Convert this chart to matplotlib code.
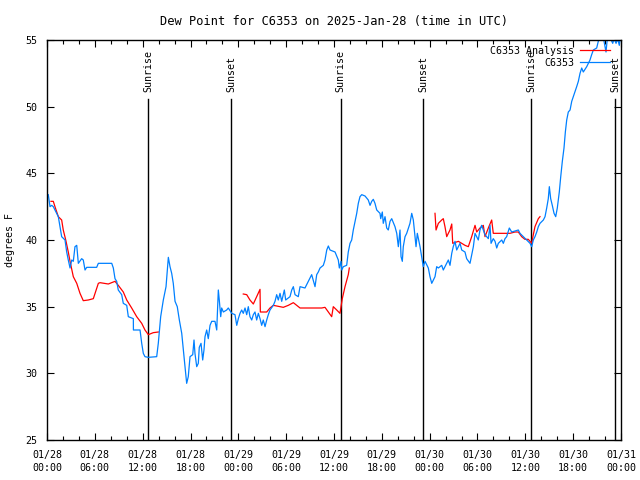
import numpy as np
import matplotlib
matplotlib.use('Agg')
import matplotlib.pyplot as plt

# hours since 2025-01-28 00:00 UTC
obs_hours = [0.16, 0.38, 0.59, 0.79, 1.22, 1.42, 1.63, 1.84, 2.26, 2.47, 2.67, 2.89, 3.10, 3.30,
             3.51, 3.73, 3.93, 4.35, 4.55, 4.77, 4.98, 6.23, 6.44, 8.12, 8.32, 8.53, 8.74, 8.94,
             9.37, 9.57, 10.0, 10.2, 10.83, 10.84, 11.67, 11.88, 12.08, 12.29, 12.71, 13.76, 13.96,
             14.26, 14.59, 14.93, 15.22, 15.43, 15.64, 15.84, 16.06, 16.34, 16.6, 16.9, 17.1, 17.31,
             17.52, 17.72, 17.94, 18.28, 18.44, 18.56, 18.78, 18.98, 19.1, 19.32, 19.53, 19.69, 19.82,
             20.03, 20.23, 20.45, 20.66, 21.07, 21.29, 21.49, 21.61, 21.79, 21.91, 22.12, 22.54, 22.74,
             23.17, 23.58, 23.8, 24.0, 24.21, 24.42, 24.62, 24.84, 25.05, 25.25, 25.46, 25.68, 25.88,
             26.09, 26.3, 26.51, 26.72, 26.93, 27.13, 27.35, 27.56, 27.76, 27.97, 28.39, 28.6, 28.81,
             29.01, 29.23, 29.44, 29.77, 29.94, 30.48, 30.7, 30.9, 31.11, 31.52, 31.74, 32.36, 32.78,
             33.2, 33.62, 33.83, 34.03, 34.25, 34.66, 34.87, 35.09, 35.29, 35.5, 36.13, 36.54, 36.67,
             36.88, 36.97, 37.17, 37.59, 37.79, 38.01, 38.22, 38.42, 38.64, 38.85, 39.05, 39.26, 39.48,
             39.89, 40.3, 40.52, 40.73, 40.93, 41.14, 41.36, 41.77, 41.86, 42.06, 42.18, 42.4, 42.61,
             42.81, 43.03, 43.24, 43.65, 43.87, 44.07, 44.28, 44.41, 44.57, 44.69, 44.91, 45.12, 45.53,
             45.75, 45.95, 46.16, 46.29, 46.45, 46.79, 47.0, 47.2, 47.42, 47.83, 48.04, 48.26, 48.67,
             48.88, 49.09, 49.51, 49.71, 50.34, 50.55, 50.77, 50.96, 51.18, 51.39, 51.81, 52.02, 52.43,
             52.64, 53.06, 53.48, 53.69, 54.1, 54.31, 54.52, 54.94, 55.36, 55.57, 55.7, 55.98, 56.2,
             56.41, 56.61, 57.04, 57.24, 57.45, 57.66, 57.99, 58.29, 59.12, 59.33, 59.75, 60.17, 60.59,
             60.8, 61.0, 61.21, 61.43, 61.63, 61.84, 62.26, 62.47, 62.68, 62.88, 63.01, 63.18, 63.38,
             63.6, 63.81, 64.01, 64.26, 64.44, 64.64, 64.85, 65.02, 65.19, 65.39, 65.61, 65.82, 66.02,
             66.23, 66.44, 66.65, 66.86, 67.07, 67.27, 67.7, 67.9, 68.11, 68.32, 68.53, 68.95, 69.15,
             69.37, 69.78, 69.99, 70.12, 70.28, 70.62, 70.96, 71.13, 71.38, 71.57, 71.79, 71.88]
obs_dewpt = [43.4, 42.5, 42.6, 42.5, 42.0, 41.75, 41.0, 40.25, 40.0, 39.1, 38.5, 37.9, 38.5, 38.4,
             39.5, 39.6, 38.25, 38.6, 38.5, 37.75, 37.95, 37.95, 38.25, 38.25, 37.9, 37.1, 36.9, 36.25,
             35.9, 35.25, 35.1, 34.25, 34.1, 33.25, 33.25, 32.25, 31.5, 31.25, 31.2, 31.25, 32.25,
             34.25, 35.5, 36.5, 38.7, 38.0, 37.5, 36.75, 35.4, 35.0, 34.0, 33.0, 31.75, 30.5,
             29.25, 29.75, 31.25, 31.4, 32.5, 31.5, 30.5, 30.75, 31.95, 32.25, 31.0, 31.75, 32.75,
             33.25, 32.6, 33.6, 33.9, 33.9, 33.25, 36.25, 35.5, 34.25, 34.9, 34.6, 34.75, 34.9,
             34.5, 34.4, 33.6, 34.1, 34.5, 34.75, 34.5, 34.9, 34.4, 35.0, 34.25, 34.0, 34.4,
             34.6, 34.0, 34.5, 34.1, 33.6, 34.0, 33.5, 34.0, 34.4, 34.75, 35.1, 35.4, 35.9,
             35.5, 36.0, 35.4, 36.25, 35.5, 35.75, 36.25, 36.5, 35.9, 35.75, 36.5, 36.4, 36.9,
             37.4, 36.5, 37.4, 37.6, 37.9, 38.1, 38.5, 39.25, 39.55, 39.25, 39.1, 38.5, 37.9,
             38.4, 37.75, 38.0, 38.1, 39.1, 39.75, 40.0, 40.75, 41.4, 42.0, 42.75, 43.25, 43.4,
             43.3, 43.0, 42.6, 42.9, 43.05, 42.75, 42.25, 42.0, 41.6, 42.1, 41.25, 41.75, 40.9,
             40.75, 41.4, 41.6, 41.0, 40.5, 39.5, 40.75, 38.75, 38.4, 39.5, 40.25, 40.5, 41.25,
             42.0, 41.5, 40.25, 39.5, 40.5, 39.5, 38.75, 38.0, 38.4, 37.9, 37.25, 36.75, 37.25,
             38.0, 37.9, 38.1, 37.75, 38.5, 38.1, 39.0, 39.5, 39.9, 39.25, 39.75, 39.25, 39.1,
             38.6, 38.25, 39.5, 40.5, 40.0, 40.75, 41.1, 40.4, 40.1, 41.1, 39.75, 40.1, 39.9,
             39.4, 39.75, 40.0, 39.75, 40.1, 40.25, 40.9, 40.6, 40.75, 40.5, 40.25, 40.0, 39.75,
             39.5, 40.0, 40.25, 40.6, 41.0, 41.25, 41.5, 41.75, 42.4, 43.1, 44.0, 43.1, 42.6,
             42.0, 41.75, 42.4, 43.6, 44.75, 45.9, 46.9, 48.1, 49.0, 49.6, 49.75, 50.4, 50.75,
             51.1, 51.5, 51.9, 52.5, 52.9, 52.6, 53.0, 53.25, 53.5, 53.9, 54.25, 54.4, 54.9,
             55.2, 55.2, 54.5, 54.1, 55.1, 55.2, 54.75, 55.1, 54.75, 55.1, 54.6, 55.1]

# analysis series, gaps marked with nan
ana_hours = [0.5, 0.79, 1.0, 1.42, 1.84, 2.04, 2.35, 2.67, 2.89, 3.3, 3.73, 4.14, 4.55, 5.18, 5.81,
             6.44, 6.65, 7.69, 8.53, 8.94, 9.57, 10.0, 10.62, 11.25, 11.88, 12.29, 12.71, 13.33, 13.96,
             np.nan,
             24.62, 25.05, 25.46, 25.88, 26.3, 26.72, 26.76, 27.56, 27.97, 28.39, 29.64, 30.27, 30.9,
             31.32, 31.74, 32.58, 34.46, 34.87, 35.29, 35.71, 35.91, 36.34, 36.75, 36.88, 37.04, 37.38,
             37.79, 37.92,
             np.nan,
             48.67, 48.8, 49.09, 49.51, 49.71, 49.92, 50.14, 50.34, 50.55, 50.77, 50.89, 51.6, 52.02,
             52.43, 52.85, 53.27, 53.69, 53.9, 54.31, 54.73, 54.94, 55.36, 55.78, 55.98, 58.07, 58.7,
             59.12, 59.54, 59.95, 60.37, 60.8, 61.0, 61.21, 61.63, 61.84]
ana_dewpt = [42.9, 42.9, 42.5, 41.75, 41.5, 40.75, 40.0, 39.1, 38.4, 37.25, 36.75, 36.0, 35.45, 35.5, 35.6,
             36.75, 36.8, 36.7, 36.9, 36.6, 36.1, 35.5, 34.9, 34.25, 33.75, 33.25, 32.9, 33.05, 33.1,
             np.nan,
             35.95, 35.9, 35.5, 35.2, 35.75, 36.3, 34.6, 34.6, 34.9, 35.1, 34.95, 35.1, 35.3,
             35.1, 34.9, 34.9, 34.9, 34.95, 34.6, 34.25, 35.0, 34.75, 34.5, 35.0, 35.6, 36.5,
             37.4, 37.9,
             np.nan,
             42.0, 40.75, 41.25, 41.5, 41.6, 41.0, 40.25, 40.5, 40.75, 41.2, 39.75, 39.9, 39.75,
             39.6, 39.5, 40.25, 41.1, 40.6, 40.9, 41.1, 40.25, 40.9, 41.5, 40.5, 40.5, 40.6,
             40.6, 40.25, 40.05, 40.05, 39.75, 40.4, 41.0, 41.6, 41.75]

sun_hours = [12.71, 23.12, 36.84, 47.2, 60.75, 71.29]
sun_labels = ['Sunrise', 'Sunset', 'Sunrise', 'Sunset', 'Sunrise', 'Sunset']

tick_hours = [0, 6, 12, 18, 24, 30, 36, 42, 48, 54, 60, 66, 72]
tick_labels = ['01/28\n00:00', '01/28\n06:00', '01/28\n12:00', '01/28\n18:00',
               '01/29\n00:00', '01/29\n06:00', '01/29\n12:00', '01/29\n18:00',
               '01/30\n00:00', '01/30\n06:00', '01/30\n12:00', '01/30\n18:00',
               '01/31\n00:00']

plt.rcParams['font.family'] = 'DejaVu Sans Mono'
plt.rcParams['font.size'] = 7.2

fig = plt.figure(figsize=(6.4, 4.8), dpi=100)
ax = fig.add_axes([47 / 640, 40 / 480, 574 / 640, 400 / 480])

for h, lab in zip(sun_hours, sun_labels):
    ax.plot([h, h], [25, 50.57], color='black', lw=1.0)
    ax.text(h, 51.1, lab, rotation=90, ha='center', va='bottom')

ax.plot(ana_hours, ana_dewpt, color='#ff0000', lw=0.9, label='C6353 Analysis')
ax.plot(obs_hours, obs_dewpt, color='#0080ff', lw=0.9, label='C6353')

ax.set_xlim(0, 72)
ax.set_ylim(25, 55)
ax.set_xticks(tick_hours)
ax.set_xticklabels(tick_labels, linespacing=1.35)
ax.set_xticks(np.arange(0, 73, 2), minor=True)
ax.set_yticks(np.arange(25, 56, 5))
ax.tick_params(which='both', direction='in', top=True, right=True, width=0.8, color='black')
ax.tick_params(which='major', length=5, pad=7)
ax.tick_params(which='minor', length=3)
for s in ax.spines.values():
    s.set_linewidth(1.0)

ax.set_title('Dew Point for C6353 on 2025-Jan-28 (time in UTC)', pad=11)
fig.text(10 / 640, 0.5, 'degrees F', rotation=90, ha='center', va='center')

ax.legend(loc='upper right', bbox_to_anchor=(1 - 4 / 574, 1 + 1 / 400), frameon=False,
          markerfirst=False, handlelength=3.0, borderaxespad=0.3, labelspacing=0.2,
          handletextpad=0.6)

fig.savefig('out.png', dpi=100)
